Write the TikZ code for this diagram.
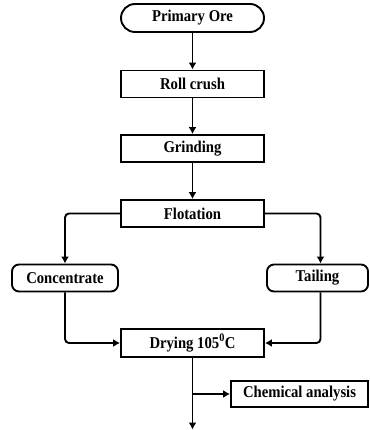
\documentclass[tikz,border=0pt]{standalone}
\usepackage{fontspec}
\setmainfont{Liberation Serif}[FakeStretch=0.89]
\usetikzlibrary{arrows.meta}
\begin{document}
\begin{tikzpicture}[x=1pt,y=-1pt,
  box/.style={draw,line width=1.9pt,minimum width=143pt,minimum height=27pt,inner sep=0pt,
    font=\fontsize{16.5}{18}\selectfont\bfseries},
  arr/.style={line width=1.9pt,-{Latex[length=7pt,width=8pt]},rounded corners=4pt}]
\useasboundingbox (0,0) rectangle (369,430);
\node[box,rounded corners=14pt,minimum height=28pt] (primary) at (192.5,18) {Primary Ore};
\node[box] (roll) at (192.5,84) {Roll crush};
\node[box] (grind) at (192.5,148.5) {Grinding};
\node[box] (flot) at (192.5,213.5) {Flotation};
\node[box,rounded corners=7pt,minimum width=106pt] (conc) at (65,278) {Concentrate};
\node[box,rounded corners=7pt,minimum width=101pt] (tail) at (317.5,278) {Tailing};
\node[box,minimum height=28pt] (dry) at (192.5,343) {Drying 105\textsuperscript{0}C};
\node[box,minimum width=137pt,minimum height=26.5pt] (chem) at (299.5,394) {Chemical analysis};
\coordinate (tx) at (320.5,0);
\coordinate (out) at (192.5,429.5);
\draw[arr] (primary) -- (roll);
\draw[arr] (roll) -- (grind);
\draw[arr] (grind) -- (flot);
\draw[arr] (flot.west) -| (conc.north);
\draw[arr] (flot.east) -| (tail.north -| tx);
\draw[arr] (conc.south) |- (dry.west);
\draw[arr] (tail.south -| tx) |- (dry.east);
\draw[arr] (dry.south) -- (out);
\draw[arr] (dry.south |- chem.west) -- (chem.west);
\end{tikzpicture}
\end{document}
